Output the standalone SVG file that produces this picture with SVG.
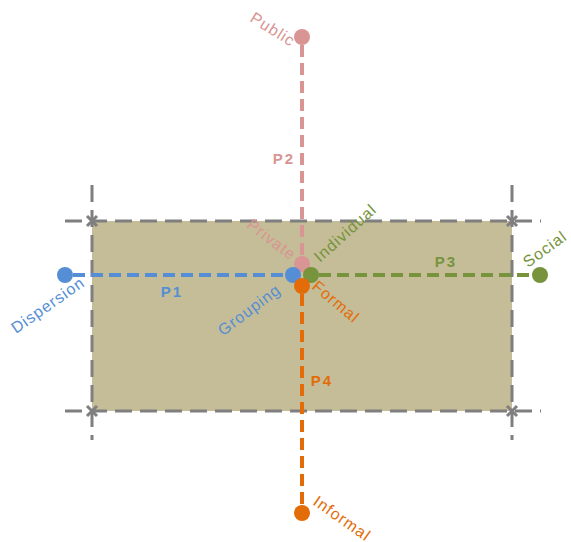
<svg xmlns="http://www.w3.org/2000/svg" width="571" height="542" viewBox="0 0 571 542">
<style>
.g{stroke:#7F7F7F;stroke-width:3;fill:none;stroke-dasharray:17 8}
.x{stroke:#7F7F7F;stroke-width:3;fill:none}
.ln{stroke-width:4;fill:none;stroke-dasharray:12 6}
.t{font-family:"Liberation Sans",Arial,sans-serif;font-size:16px;letter-spacing:1px}
.p{font-family:"Liberation Sans",Arial,sans-serif;font-size:15px;font-weight:bold;letter-spacing:2px;text-anchor:middle}
</style>
<rect x="92" y="221" width="420" height="190" fill="#C4BD97"/>
<g id="frame">
<line class="g" x1="65" y1="221" x2="541" y2="221"/>
<line class="g" x1="65" y1="411" x2="541" y2="411"/>
<line class="g" x1="92" y1="185" x2="92" y2="440"/>
<line class="g" x1="512" y1="185" x2="512" y2="440"/>
<path class="x" d="M87 216L97 226M97 216L87 226M507 216L517 226M517 216L507 226M87 406L97 416M97 406L87 416M507 406L517 416M517 406L507 416"/>
</g>
<g id="connectors">
<line class="ln" stroke="#D99594" x1="302" y1="45" x2="302" y2="256"/>
<line class="ln" stroke="#558ED5" x1="73" y1="275" x2="285" y2="275"/>
<line class="ln" stroke="#77933C" x1="319" y1="275" x2="532" y2="275"/>
<line class="ln" stroke="#E36C09" x1="302" y1="294" x2="302" y2="505"/>
</g>
<g id="p2"><circle cx="302" cy="37" r="8" fill="#D99594"/><circle cx="302" cy="264" r="8" fill="#D99594"/>
<text class="t" fill="#D99594" text-anchor="end" transform="translate(291,47) rotate(32)">Public</text>
<text class="t" fill="#D99594" text-anchor="end" transform="translate(291,261) rotate(37)">Private</text>
<text class="p" fill="#D99594" x="284" y="164">P2</text></g>
<g id="p1"><circle cx="65" cy="275" r="8" fill="#558ED5"/><circle cx="293" cy="275" r="8" fill="#558ED5"/>
<text class="t" fill="#558ED5" text-anchor="end" transform="translate(86,285) rotate(-35)">Dispersion</text>
<text class="t" fill="#558ED5" text-anchor="end" transform="translate(282,292) rotate(-37)">Grouping</text>
<text class="p" fill="#558ED5" x="172" y="297">P1</text></g>
<g id="p3"><circle cx="311" cy="275" r="8" fill="#77933C"/><circle cx="540" cy="275" r="8" fill="#77933C"/>
<text class="t" fill="#77933C" transform="translate(320,263) rotate(-42)">Individual</text>
<text class="t" fill="#77933C" transform="translate(528,268) rotate(-36)">Social</text>
<text class="p" fill="#77933C" x="446" y="267">P3</text></g>
<g id="p4"><circle cx="302" cy="286" r="8" fill="#E36C09"/><circle cx="302" cy="513" r="8" fill="#E36C09"/>
<text class="t" fill="#E36C09" transform="translate(311,288) rotate(40)">Formal</text>
<text class="t" fill="#E36C09" transform="translate(312,504) rotate(35)">Informal</text>
<text class="p" fill="#E36C09" x="322" y="386">P4</text></g>
</svg>
